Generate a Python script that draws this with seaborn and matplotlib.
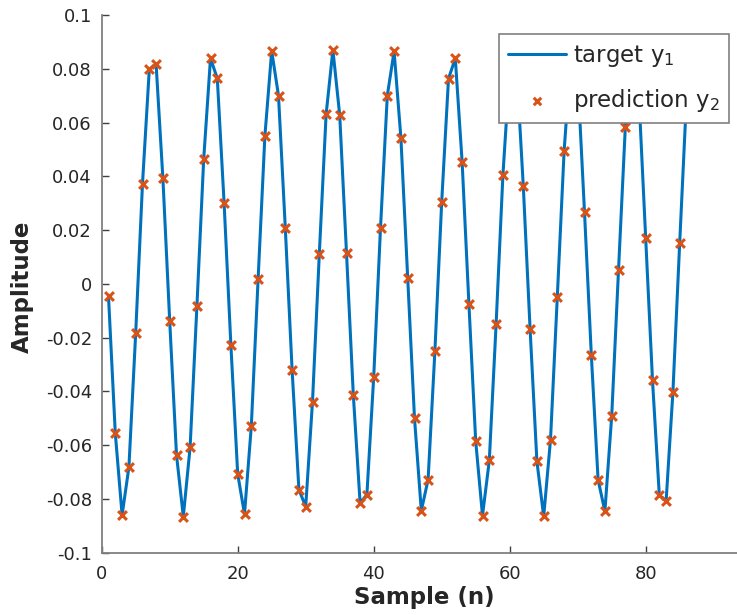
import numpy as np
import pandas as pd
import matplotlib
matplotlib.use("Agg")
import matplotlib.pyplot as plt
import seaborn as sns

# ---- data ----
samples = list(range(1, 87))
target_y1 = [
    -0.0047, -0.0556, -0.0860, -0.0682, -0.0183, 0.0373, 0.0798, 0.0817, 0.0392, -0.0138,
    -0.0636, -0.0866, -0.0608, -0.0084, 0.0464, 0.0839, 0.0764, 0.0301, -0.0229, -0.0707,
    -0.0856, -0.0530, 0.0017, 0.0551, 0.0866, 0.0700, 0.0208, -0.0320, -0.0765, -0.0829,
    -0.0438, 0.0110, 0.0630, 0.0870, 0.0628, 0.0115, -0.0412, -0.0815, -0.0784, -0.0347,
    0.0208, 0.0700, 0.0865, 0.0543, 0.0022, -0.0500, -0.0844, -0.0728, -0.0250, 0.0305,
    0.0763, 0.0839, 0.0455, -0.0074, -0.0585, -0.0862, -0.0657, -0.0151, 0.0404, 0.0800,
    0.0810, 0.0363, -0.0169, -0.0660, -0.0865, -0.0580, -0.0049, 0.0493, 0.0850, 0.0770,
    0.0267, -0.0263, -0.0729, -0.0846, -0.0492, 0.0050, 0.0582, 0.0860, 0.0700, 0.0169,
    -0.0359, -0.0785, -0.0809, -0.0403, 0.0153, 0.0690,
]
prediction_y2 = list(target_y1)

x_ticks = [0, 20, 40, 60, 80]
y_ticks = [-0.1, -0.08, -0.06, -0.04, -0.02, 0, 0.02, 0.04, 0.06, 0.08, 0.1]
y_tick_labels = ["-0.1", "-0.08", "-0.06", "-0.04", "-0.02", "0",
                 "0.02", "0.04", "0.06", "0.08", "0.1"]

df = pd.DataFrame({"n": samples, "y1": target_y1, "y2": prediction_y2})

sns.set_style("white")
plt.rcParams["font.family"] = ["DejaVu Sans"]

W, H = 737, 615
fig = plt.figure(figsize=(W / 100, H / 100), dpi=100)
left, right, top, bottom = 101.7, 737.0, 15.0, 552.7
axw, axh = right - left, bottom - top
ax = fig.add_axes([left / W, 1 - bottom / H, axw / W, axh / H])

line_color = "#0072BD"
mark_color = "#D95319"

sns.lineplot(data=df, x="n", y="y1", ax=ax, color=line_color, linewidth=2.2,
             label="target y$_1$", zorder=2)
sns.scatterplot(data=df, x="n", y="y2", ax=ax, color=mark_color, marker="x",
                s=40, linewidth=2.2, label="prediction y$_2$", zorder=3)

ax.set_xlim(0, axw / 6.8)
ax.set_ylim(-0.1, 0.1)
ax.set_xticks(x_ticks)
ax.set_xticklabels([str(t) for t in x_ticks])
ax.set_yticks(y_ticks)
ax.set_yticklabels(y_tick_labels)

for side in ["top", "right"]:
    ax.spines[side].set_visible(False)
for side in ["left", "bottom"]:
    ax.spines[side].set_color("#808080")
    ax.spines[side].set_linewidth(1.3)

ax.tick_params(bottom=True, left=True, direction="in", length=5, width=1.0,
               color="#404040", labelsize=13, labelcolor="#262626")
ax.tick_params(axis="y", pad=7)
ax.tick_params(axis="x", pad=9)

ax.set_xlabel("Sample (n)", fontsize=16.5, fontweight="bold", color="#262626")
ax.set_ylabel("Amplitude", fontsize=16.5, fontweight="bold", color="#262626")
ax.xaxis.set_label_coords((424 - left) / axw, -(586 - bottom) / axh)
ax.yaxis.set_label_coords(-(left - 34) / axw, 0.494)

leg = ax.legend(loc="upper right",
                bbox_to_anchor=((729 - left) / axw, 1 - (34.3 - top) / axh),
                fontsize=16.5, frameon=True, fancybox=False, framealpha=1.0,
                edgecolor="#808080", borderaxespad=0, handlelength=2.53,
                handletextpad=0.3, borderpad=0.4, labelspacing=0.75, markerscale=0.85)
leg.get_frame().set_linewidth(1.2)
for t in leg.get_texts():
    t.set_color("#262626")

fig.savefig("out.png", dpi=100)
